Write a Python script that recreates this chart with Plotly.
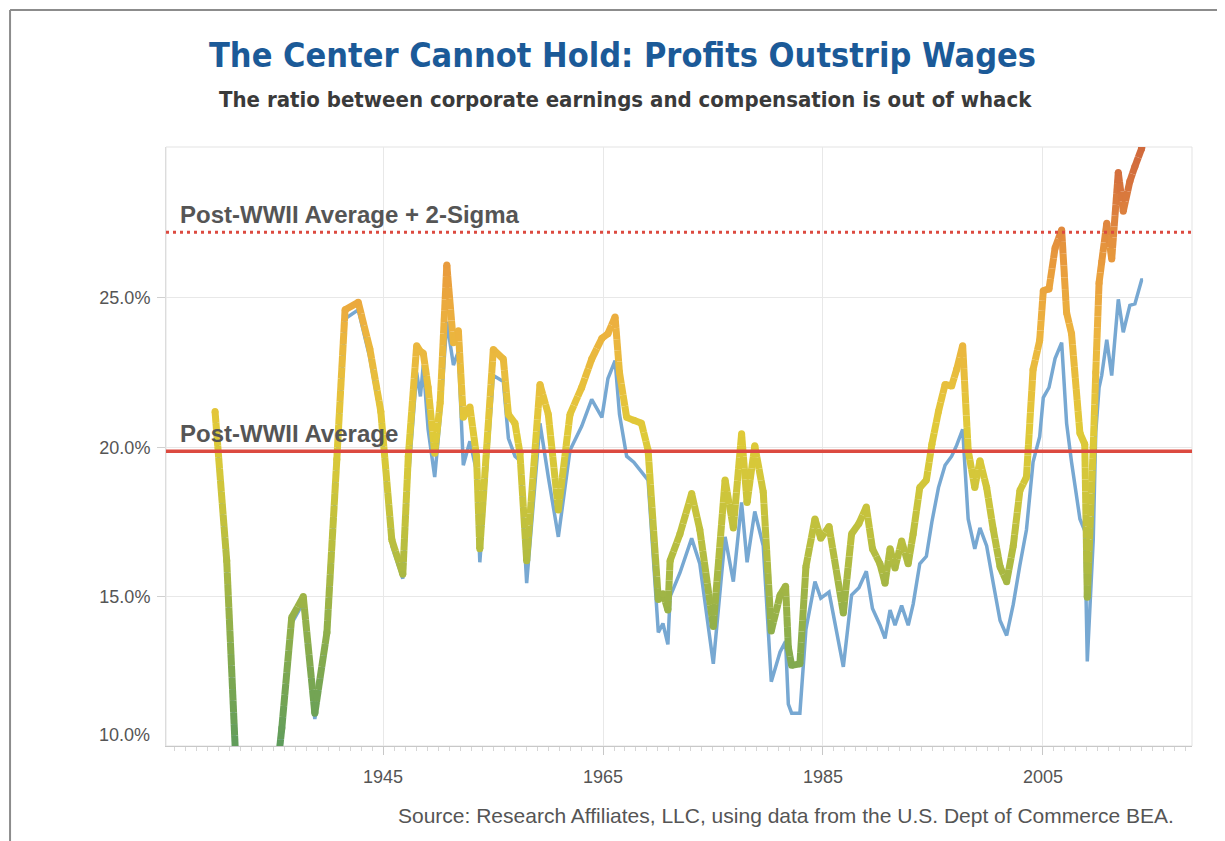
import math
import plotly.graph_objects as go

# ---------------- data ----------------
years = [1929.73, 1930.79, 1931.8, 1932.8, 1933.8, 1934.8, 1935.8, 1936.7, 1937.75, 1938.8,
         1939.9, 1940.8, 1941.55, 1942.75, 1943.8, 1944.8, 1945.8, 1946.8,
         1947.3, 1948.06, 1948.4, 1948.66, 1949.1, 1949.7, 1950.2, 1950.8, 1951.4, 1951.85,
         1952.3, 1952.9, 1953.5, 1953.8, 1955.03, 1955.94, 1956.4, 1957.0, 1957.45, 1958.06,
         1959.27, 1960.03, 1960.94, 1962.0, 1963.06, 1963.97, 1964.9, 1965.45, 1966.1, 1966.5,
         1967.15, 1967.8, 1968.5, 1969.1, 1970.03, 1970.45, 1970.9, 1971.1, 1972.0, 1973.06,
         1973.8, 1975.03, 1976.1, 1976.85, 1977.6, 1978.1, 1978.8, 1979.57, 1980.3, 1981.1,
         1981.6, 1981.85, 1982.15, 1982.9, 1983.45, 1984.27, 1984.8, 1985.55, 1986.85, 1987.6,
         1988.27, 1988.94, 1989.5, 1990.18, 1990.64, 1991.1, 1991.55, 1992.15, 1992.75, 1993.2,
         1993.8, 1994.4, 1994.9, 1995.5, 1996.1, 1996.7, 1997.15, 1997.7, 1998.2, 1998.8,
         1999.27, 1999.88, 2000.48, 2001.1, 2001.7, 2002.3, 2002.9, 2003.5, 2004.1, 2004.7,
         2005.03, 2005.55, 2006.1, 2006.7, 2007.15, 2007.6, 2008.36, 2008.8, 2009.03, 2009.57,
         2009.8, 2010.1, 2010.34, 2010.8, 2011.25, 2011.85, 2012.3, 2012.9, 2013.36, 2013.97,
         2014.1]

# Ratio (gradient-coloured series), %
ratio_main = [21.2, 16.2, 8.0, 3.0, 4.0, 7.2, 10.6, 14.3, 15.0, 11.1,
              13.8, 19.6, 24.6, 24.85, 23.3, 21.2, 16.9, 15.75,
              19.7, 23.4, 23.2, 23.15, 22.0, 19.8, 21.5, 26.1, 23.5, 23.9,
              21.0, 21.35, 19.7, 16.6, 23.27, 22.95, 21.1, 20.8, 19.8, 16.2,
              22.1, 21.1, 17.9, 21.1, 22.0, 22.95, 23.65, 23.8, 24.36, 22.5,
              21.0, 20.9, 20.8, 19.9, 14.9, 15.1, 14.55, 16.2, 17.1, 18.45,
              17.25, 14.0, 18.9, 17.3, 20.45, 18.15, 20.05, 18.5, 13.85, 15.05,
              15.35, 13.3, 12.7, 12.75, 16.0, 17.6, 16.95, 17.35, 14.45, 17.1,
              17.45, 18.0, 16.6, 16.1, 15.45, 16.6, 15.96, 16.86, 16.1, 17.1,
              18.65, 18.9, 20.1, 21.2, 22.1, 22.05, 22.6, 23.4, 19.9, 18.65,
              19.55, 18.65, 17.25, 16.0, 15.5, 16.7, 18.55, 19.0, 22.6, 23.57,
              25.24, 25.3, 26.67, 27.27, 24.5, 23.8, 20.47, 20.1, 14.98, 20.0,
              22.5, 25.5, 26.2, 27.5, 26.3, 29.2, 27.9, 28.9, 29.4, 30.0,
              30.3]

# Second ratio (blue series), %
ratio_blue = [21.1, 16.0, 7.8, 2.8, 3.8, 7.0, 10.4, 14.1, 14.8, 10.9,
              13.6, 19.4, 24.3, 24.6, 23.0, 21.0, 16.7, 15.6,
              18.9, 22.5, 21.7, 22.75, 20.6, 19.0, 21.0, 24.2, 22.75, 23.2,
              19.4, 20.2, 19.2, 16.15, 22.4, 22.2, 20.3, 19.7, 19.55, 15.45,
              20.8, 19.0, 17.0, 19.9, 20.7, 21.6, 21.0, 22.3, 22.9, 21.1,
              19.7, 19.5, 19.2, 18.9, 13.8, 14.1, 13.4, 15.0, 15.8, 16.95,
              16.1, 12.75, 17.0, 15.5, 18.15, 16.15, 17.85, 16.7, 12.15, 13.15,
              13.5, 11.4, 11.1, 11.1, 13.9, 15.5, 14.95, 15.15, 12.65, 15.05,
              15.3, 15.85, 14.6, 14.05, 13.6, 14.55, 14.04, 14.7, 14.04, 14.75,
              16.1, 16.35, 17.5, 18.65, 19.4, 19.7, 20.06, 20.6, 17.6, 16.6,
              17.3, 16.7, 15.45, 14.2, 13.7, 14.74, 16.05, 17.24, 19.5, 20.35,
              21.66, 22.0, 22.97, 23.5, 20.8, 19.5, 17.6, 17.2, 12.83, 16.9,
              20.5, 22.0, 22.4, 23.6, 22.4, 24.95, 23.85, 24.75, 24.8, 25.6,
              25.6]

postwar_avg = 19.87
postwar_avg_2sigma = 27.2

x_ticks = [1945, 1965, 1985, 2005]
y_ticks = [15, 20, 25]
y_ticktext = ["15.0%", "20.0%", "25.0%"]

title_text = "The Center Cannot Hold: Profits Outstrip Wages"
subtitle_text = "The ratio between corporate earnings and compensation is out of whack"
source_text = "Source: Research Affiliates, LLC, using data from the U.S. Dept of Commerce BEA."

# ---------------- styling helpers ----------------
color_stops = [(10, "#5f9c5c"), (12.5, "#7fa950"), (15, "#9eb446"), (17, "#bcbf3e"),
               (19, "#d4c73a"), (20.5, "#dfca38"), (22, "#e7c03c"), (24, "#ecb23f"),
               (26, "#e99d3d"), (27.5, "#df863e"), (29, "#d5713d"), (31, "#cc623b")]


def hex2rgb(h):
    h = h.lstrip("#")
    return tuple(int(h[i:i + 2], 16) for i in (0, 2, 4))


def value_color(v):
    if v <= color_stops[0][0]:
        return color_stops[0][1]
    for (v0, c0), (v1, c1) in zip(color_stops[:-1], color_stops[1:]):
        if v <= v1:
            t = (v - v0) / (v1 - v0)
            a, b = hex2rgb(c0), hex2rgb(c1)
            rgb = [round(a[i] + (b[i] - a[i]) * t) for i in range(3)]
            return "#%02x%02x%02x" % tuple(rgb)
    return color_stops[-1][1]


fig = go.Figure()

# blue series (drawn beneath)
fig.add_trace(go.Scatter(x=years, y=ratio_blue, mode="lines",
                         line=dict(color="#77a8d2", width=3.5),
                         hoverinfo="skip", showlegend=False))

# gradient series: split each segment into pieces coloured by value
groups = {}
for i in range(len(years) - 1):
    x0, y0, x1, y1 = years[i], ratio_main[i], years[i + 1], ratio_main[i + 1]
    n = max(1, math.ceil(abs(y1 - y0) / 0.4))
    for k in range(n):
        ta, tb = k / n, (k + 1) / n
        xa, ya = x0 + (x1 - x0) * ta, y0 + (y1 - y0) * ta
        xb, yb = x0 + (x1 - x0) * tb, y0 + (y1 - y0) * tb
        key = round((ya + yb) / 2 / 0.2) * 0.2
        g = groups.setdefault(key, ([], []))
        g[0].extend([xa, xb, None])
        g[1].extend([ya, yb, None])

for key in sorted(groups):
    gx, gy = groups[key]
    fig.add_trace(go.Scatter(x=gx, y=gy, mode="lines",
                             line=dict(color=value_color(key), width=7),
                             hoverinfo="skip", showlegend=False))

fig.add_trace(go.Scatter(x=years, y=ratio_main, mode="markers",
                         marker=dict(size=7, color=[value_color(v) for v in ratio_main],
                                     line=dict(width=0)),
                         hoverinfo="skip", showlegend=False))

# reference lines
fig.add_shape(type="line", xref="paper", x0=0, x1=1, yref="y", y0=postwar_avg, y1=postwar_avg,
              line=dict(color="#dc4a40", width=3.5), layer="above")
fig.add_shape(type="line", xref="paper", x0=0, x1=1, yref="y",
              y0=postwar_avg_2sigma, y1=postwar_avg_2sigma,
              line=dict(color="#dc4a40", width=3, dash="3px,4px"), layer="above")

# plot frame (light) and outer card border (top and left edges only)
fig.add_shape(type="rect", xref="paper", yref="paper", x0=0, x1=1, y0=0, y1=1,
              line=dict(color="#e3e3e3", width=1), layer="below")
fig.add_shape(type="line", xref="paper", yref="paper", x0=-0.152, x1=1.2, y0=1.2287, y1=1.2287,
              line=dict(color="#8c8c8c", width=2), layer="below")
fig.add_shape(type="line", xref="paper", yref="paper", x0=-0.152, x1=-0.152, y0=-0.3, y1=1.2287,
              line=dict(color="#8c8c8c", width=2), layer="below")

sans = "Liberation Sans, Arial, sans-serif"
cond = "Liberation Sans Narrow, DejaVu Sans Condensed, sans-serif"
label_font = dict(family=sans, size=24, color="#555555")
fig.add_annotation(text="<b>Post-WWII Average + 2-Sigma</b>", xref="paper", x=0.0117,
                   xanchor="left", yref="y", y=postwar_avg_2sigma, yanchor="bottom", yshift=2,
                   showarrow=False, font=label_font)
fig.add_annotation(text="<b>Post-WWII Average</b>", xref="paper", x=0.0117,
                   xanchor="left", yref="y", y=postwar_avg, yanchor="bottom", yshift=2,
                   showarrow=False, font=label_font)

fig.add_annotation(text="<b>" + title_text + "</b>", xref="paper", x=0.4454, yref="paper",
                   y=1.1536, xanchor="center", yanchor="middle", showarrow=False,
                   font=dict(family=cond, size=34, color="#1b5a98"))
fig.add_annotation(text="<b>" + subtitle_text + "</b>", xref="paper", x=0.4474, yref="paper",
                   y=1.0785, xanchor="center", yanchor="middle", showarrow=False,
                   font=dict(family=cond, size=22, color="#3a3a3a"))
fig.add_annotation(text=source_text, xref="paper", x=0.984, yref="paper", y=-0.1152,
                   xanchor="right", yanchor="middle", showarrow=False,
                   font=dict(family=sans, size=21, color="#555555"))
fig.add_annotation(text="10.0%", xref="paper", x=-0.0136, xanchor="right", yref="paper",
                   y=0.018, yanchor="middle", showarrow=False,
                   font=dict(family=sans, size=18, color="#555555"))

fig.update_layout(
    width=1217, height=833,
    margin=dict(l=158, r=33, t=139, b=95),
    paper_bgcolor="white", plot_bgcolor="white",
    showlegend=False,
    xaxis=dict(range=[1925.27, 2018.55], tickvals=x_ticks, ticktext=[str(t) for t in x_ticks],
               showgrid=True, gridcolor="#e8e8e8", gridwidth=1, zeroline=False,
               showline=True, linecolor="#c8c8c8", linewidth=1,
               ticks="outside", ticklen=8, tickcolor="#c8c8c8", ticklabelstandoff=6,
               minor=dict(ticks="outside", ticklen=4, dtick=1, tick0=1925,
                          tickcolor="#d6d6d6", showgrid=False),
               tickfont=dict(family=sans, size=18, color="#555555")),
    yaxis=dict(range=[10, 30.05], tickvals=y_ticks, ticktext=y_ticktext,
               showgrid=True, gridcolor="#e8e8e8", gridwidth=1, zeroline=False,
               showline=True, linecolor="#dcdcdc", linewidth=1,
               ticks="outside", ticklen=8, tickcolor="#d0d0d0", ticklabelstandoff=3,
               tickfont=dict(family=sans, size=18, color="#555555")),
)

fig.write_html("out.html")
